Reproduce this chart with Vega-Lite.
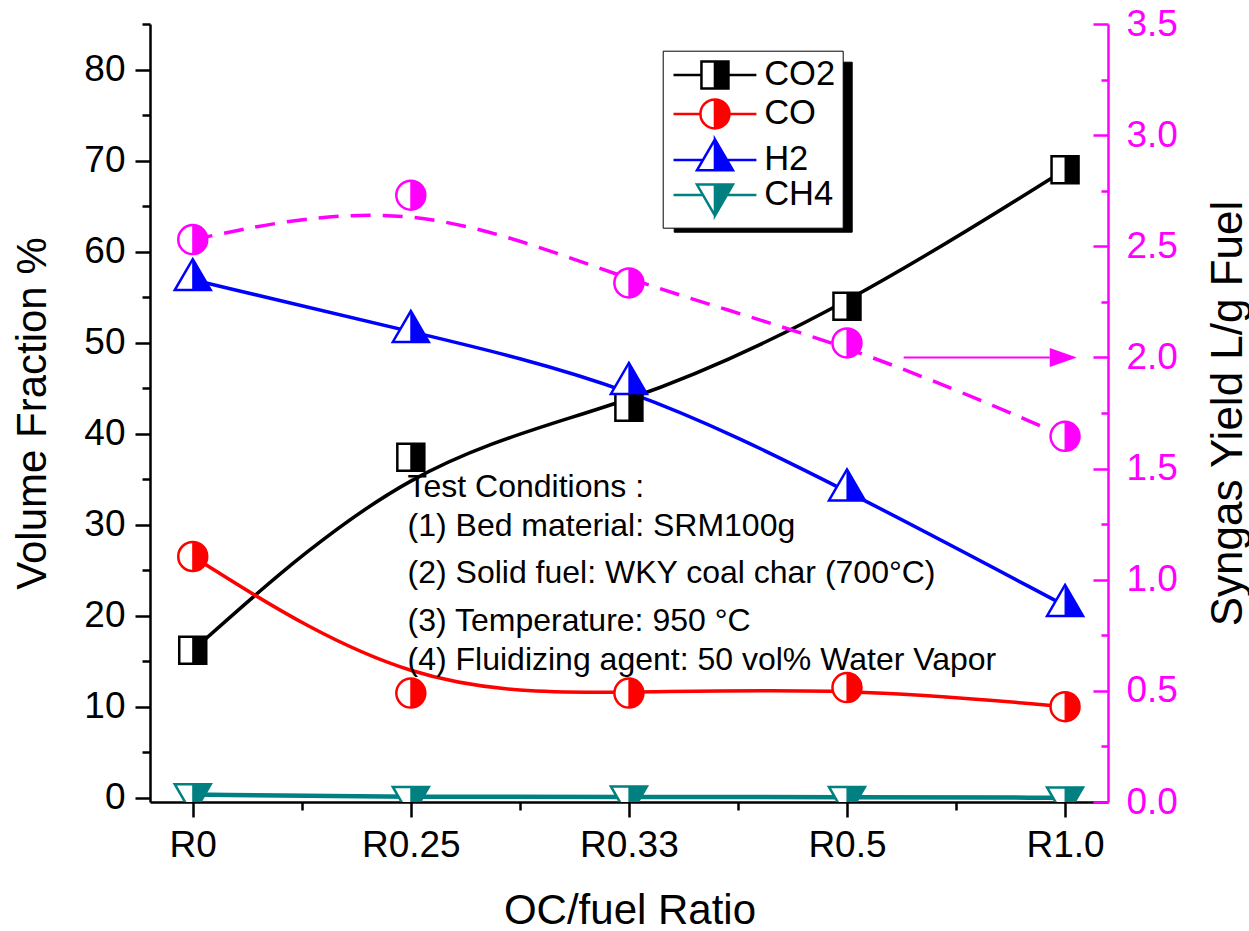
{
"$schema": "https://vega.github.io/schema/vega-lite/v6.json",
"width": 958,
"height": 778,
"autosize": {"type": "none"},
"padding": {"left": 150, "top": 24, "right": 141, "bottom": 129},
"background": "white",
"config": {
  "view": {"stroke": null},
  "font": "Liberation Sans",
  "axis": {"grid": false, "labelFont": "Liberation Sans", "titleFont": "Liberation Sans", "titleFontWeight": "normal", "labelFlush": false, "labelOverlap": false, "labelBound": false},
  "legend": {"labelFont": "Liberation Sans"}
},
"datasets": {
  "gases": [
    {"i": 0, "ratio": "R0", "series": "CO2", "value": 16.2},
    {"i": 1, "ratio": "R0.25", "series": "CO2", "value": 37.4},
    {"i": 2, "ratio": "R0.33", "series": "CO2", "value": 42.9},
    {"i": 3, "ratio": "R0.5", "series": "CO2", "value": 54.0},
    {"i": 4, "ratio": "R1.0", "series": "CO2", "value": 69.0},
    {"i": 0, "ratio": "R0", "series": "CO", "value": 26.5},
    {"i": 1, "ratio": "R0.25", "series": "CO", "value": 11.5},
    {"i": 2, "ratio": "R0.33", "series": "CO", "value": 11.5},
    {"i": 3, "ratio": "R0.5", "series": "CO", "value": 12.1},
    {"i": 4, "ratio": "R1.0", "series": "CO", "value": 10.0},
    {"i": 0, "ratio": "R0", "series": "H2", "value": 56.9},
    {"i": 1, "ratio": "R0.25", "series": "H2", "value": 51.2},
    {"i": 2, "ratio": "R0.33", "series": "H2", "value": 45.5},
    {"i": 3, "ratio": "R0.5", "series": "H2", "value": 33.8},
    {"i": 4, "ratio": "R1.0", "series": "H2", "value": 21.1},
    {"i": 0, "ratio": "R0", "series": "CH4", "value": 0.35},
    {"i": 1, "ratio": "R0.25", "series": "CH4", "value": 0.05},
    {"i": 2, "ratio": "R0.33", "series": "CH4", "value": 0.1},
    {"i": 3, "ratio": "R0.5", "series": "CH4", "value": 0.05},
    {"i": 4, "ratio": "R1.0", "series": "CH4", "value": 0.0}
  ],
  "syngas": [
    {"i": 0, "ratio": "R0", "yield": 2.53},
    {"i": 1, "ratio": "R0.25", "yield": 2.73},
    {"i": 2, "ratio": "R0.33", "yield": 2.335},
    {"i": 3, "ratio": "R0.5", "yield": 2.065},
    {"i": 4, "ratio": "R1.0", "yield": 1.645}
  ],
  "notes": [
    {"i": 0.985, "value": 33.03, "label": "Test Conditions :"},
    {"i": 0.985, "value": 28.75, "label": "(1) Bed material: SRM100g"},
    {"i": 0.985, "value": 23.58, "label": "(2) Solid fuel: WKY coal char (700°C)"},
    {"i": 0.985, "value": 18.31, "label": "(3) Temperature: 950 °C"},
    {"i": 0.985, "value": 14.03, "label": "(4) Fluidizing agent: 50 vol% Water Vapor"}
  ],
  "arrow": [
    {"i": 3.26, "i2": 3.93, "yield": 2.0}
  ],
  "legendKeys": [
    {"series": "CO2"}, {"series": "CO"}, {"series": "H2"}, {"series": "CH4"}
  ]
},
"layer": [
  {
    "data": {"name": "gases"},
    "encoding": {
      "x": {
        "field": "i", "type": "quantitative",
        "scale": {"domain": [-0.196, 4.197], "nice": false, "zero": false},
        "axis": {
          "title": "OC/fuel Ratio",
          "values": [0, 0.5, 1, 1.5, 2, 2.5, 3, 3.5, 4],
          "labelExpr": "datum.value % 1 === 0 ? ['R0','R0.25','R0.33','R0.5','R1.0'][datum.value] : ''",
          "tickSize": {"condition": {"test": "datum.value % 1 === 0", "value": 15}, "value": 8},
          "tickColor": "black", "tickWidth": 2.5,
          "domainColor": "black", "domainWidth": 2.5,
          "labelFontSize": 37, "labelColor": "black", "labelPadding": 10,
          "titleFontSize": 42, "titleColor": "black",
          "titleX": 479.5, "titleY": 121, "titleBaseline": "alphabetic", "titleAlign": "center"
        }
      },
      "y": {
        "field": "value", "type": "quantitative",
        "scale": {"domain": [-0.47, 85], "nice": false, "zero": false},
        "axis": {
          "title": "Volume Fraction %",
          "values": [0, 5, 10, 15, 20, 25, 30, 35, 40, 45, 50, 55, 60, 65, 70, 75, 80, 85],
          "labelExpr": "datum.value % 10 === 0 ? format(datum.value, 'd') : ''",
          "tickSize": {"condition": {"test": "datum.value % 10 === 0", "value": 15}, "value": 8},
          "tickColor": "black", "tickWidth": 2.5,
          "domainColor": "black", "domainWidth": 2.5,
          "labelFontSize": 37, "labelColor": "black", "labelPadding": 10,
          "titleFontSize": 42, "titleColor": "black",
          "titleAngle": 270, "titleX": -105, "titleY": 389, "titleBaseline": "alphabetic", "titleAlign": "center"
        }
      }
    },
    "layer": [
      {
        "mark": {"type": "line", "interpolate": "basis"},
        "encoding": {
          "detail": {"field": "series", "type": "nominal"},
          "stroke": {"condition": [
            {"test": "datum.series === 'CO2'", "value": "#000000"},
            {"test": "datum.series === 'CO'", "value": "#ff0000"},
            {"test": "datum.series === 'H2'", "value": "#0000ff"}
          ], "value": "#008080"},
          "strokeWidth": {"condition": {"test": "datum.series === 'CH4'", "value": 4.5}, "value": 3.5}
        }
      },
      {
        "mark": {"type": "point", "filled": true, "fill": "white", "size": 729, "strokeWidth": 2.5, "opacity": 1, "fillOpacity": 1, "clip": true},
        "encoding": {
          "stroke": {"condition": [
            {"test": "datum.series === 'CO2'", "value": "#000000"},
            {"test": "datum.series === 'CO'", "value": "#ff0000"},
            {"test": "datum.series === 'H2'", "value": "#0000ff"}
          ], "value": "#008080"},
          "shape": {"condition": [
            {"test": "datum.series === 'CO2'", "value": "M-1,-1L1,-1L1,1L-1,1Z"},
            {"test": "datum.series === 'CO'", "value": "M-1.074,0A1.074,1.074 0 1,1 1.074,0A1.074,1.074 0 1,1 -1.074,0Z"},
            {"test": "datum.series === 'H2'", "value": "M0,-1.531L1.333,0.765L-1.333,0.765Z"}
          ], "value": "M0,1.531L1.333,-0.765L-1.333,-0.765Z"}
        }
      },
      {
        "mark": {"type": "point", "filled": true, "size": 729, "strokeWidth": 1, "opacity": 1, "clip": true},
        "encoding": {
          "fill": {"condition": [
            {"test": "datum.series === 'CO2'", "value": "#000000"},
            {"test": "datum.series === 'CO'", "value": "#ff0000"},
            {"test": "datum.series === 'H2'", "value": "#0000ff"}
          ], "value": "#008080"},
          "stroke": {"condition": [
            {"test": "datum.series === 'CO2'", "value": "#000000"},
            {"test": "datum.series === 'CO'", "value": "#ff0000"},
            {"test": "datum.series === 'H2'", "value": "#0000ff"}
          ], "value": "#008080"},
          "shape": {"condition": [
            {"test": "datum.series === 'CO2'", "value": "M0,-1L1,-1L1,1L0,1Z"},
            {"test": "datum.series === 'CO'", "value": "M0,-1.074A1.074,1.074 0 0,1 0,1.074Z"},
            {"test": "datum.series === 'H2'", "value": "M0,-1.531L1.333,0.765L0,0.765Z"}
          ], "value": "M0,1.531L1.333,-0.765L0,-0.765Z"}
        }
      },
      {
        "data": {"name": "notes"},
        "mark": {"type": "text", "align": "left", "baseline": "alphabetic", "fontSize": 32, "font": "Liberation Sans", "color": "black"},
        "encoding": {
          "text": {"field": "label", "type": "nominal"}
        }
      }
    ]
  },
  {
    "encoding": {
      "x": {
        "field": "i", "type": "quantitative",
        "scale": {"domain": [-0.196, 4.197], "nice": false, "zero": false},
        "axis": {
          "title": "OC/fuel Ratio",
          "values": [0, 0.5, 1, 1.5, 2, 2.5, 3, 3.5, 4],
          "labelExpr": "datum.value % 1 === 0 ? ['R0','R0.25','R0.33','R0.5','R1.0'][datum.value] : ''",
          "tickSize": {"condition": {"test": "datum.value % 1 === 0", "value": 15}, "value": 8},
          "tickColor": "black", "tickWidth": 2.5,
          "domainColor": "black", "domainWidth": 2.5,
          "labelFontSize": 37, "labelColor": "black", "labelPadding": 10,
          "titleFontSize": 42, "titleColor": "black",
          "titleX": 479.5, "titleY": 121, "titleBaseline": "alphabetic", "titleAlign": "center"
        }
      }
    },
    "layer": [
      {
        "data": {"name": "syngas"},
        "mark": {"type": "line", "interpolate": "basis", "color": "#ff00ff", "strokeWidth": 3.5, "strokeDash": [20, 12]},
        "encoding": {
          "y": {
            "field": "yield", "type": "quantitative",
            "scale": {"domain": [0, 3.5], "nice": false, "zero": false},
            "axis": {
              "orient": "right",
              "title": "Syngas Yield L/g Fuel",
              "values": [0, 0.25, 0.5, 0.75, 1, 1.25, 1.5, 1.75, 2, 2.25, 2.5, 2.75, 3, 3.25, 3.5],
              "labelExpr": "(datum.value * 4) % 2 === 0 ? format(datum.value, '.1f') : ''",
              "tickSize": {"condition": {"test": "(datum.value * 4) % 2 === 0", "value": -15}, "value": -7},
              "tickColor": "#ff00ff", "tickWidth": 2.5,
              "domainColor": "#ff00ff", "domainWidth": 2.5,
              "labelFontSize": 37, "labelColor": "#ff00ff", "labelPadding": 33,
              "titleFontSize": 44, "titleColor": "black",
              "titleAngle": 270, "titleX": 133, "titleY": 389, "titleBaseline": "alphabetic", "titleAlign": "center"
            }
          }
        }
      },
      {
        "data": {"name": "syngas"},
        "mark": {"type": "point", "filled": true, "fill": "white", "stroke": "#ff00ff", "strokeWidth": 2.5, "size": 729, "opacity": 1,
                 "shape": "M-1.074,0A1.074,1.074 0 1,1 1.074,0A1.074,1.074 0 1,1 -1.074,0Z"},
        "encoding": {
          "y": {"field": "yield", "type": "quantitative"}
        }
      },
      {
        "data": {"name": "syngas"},
        "mark": {"type": "point", "filled": true, "fill": "#ff00ff", "stroke": "#ff00ff", "strokeWidth": 1, "size": 729, "opacity": 1,
                 "shape": "M0,-1.074A1.074,1.074 0 0,1 0,1.074Z"},
        "encoding": {
          "y": {"field": "yield", "type": "quantitative"}
        }
      },
      {
        "data": {"name": "arrow"},
        "mark": {"type": "rule", "color": "#ff00ff", "strokeWidth": 2},
        "encoding": {
          "x2": {"field": "i2"},
          "y": {"field": "yield", "type": "quantitative"}
        }
      },
      {
        "data": {"name": "arrow"},
        "mark": {"type": "point", "filled": true, "color": "#ff00ff", "size": 729, "opacity": 1, "shape": "M0,-0.7L2,0L0,0.7Z"},
        "encoding": {
          "x": {
            "field": "i2", "type": "quantitative",
            "scale": {"domain": [-0.196, 4.197], "nice": false, "zero": false},
            "axis": {
              "title": "OC/fuel Ratio",
              "values": [0, 0.5, 1, 1.5, 2, 2.5, 3, 3.5, 4],
              "labelExpr": "datum.value % 1 === 0 ? ['R0','R0.25','R0.33','R0.5','R1.0'][datum.value] : ''",
              "tickSize": {"condition": {"test": "datum.value % 1 === 0", "value": 15}, "value": 8},
              "tickColor": "black", "tickWidth": 2.5,
              "domainColor": "black", "domainWidth": 2.5,
              "labelFontSize": 37, "labelColor": "black", "labelPadding": 10,
              "titleFontSize": 42, "titleColor": "black",
              "titleX": 479.5, "titleY": 121, "titleBaseline": "alphabetic", "titleAlign": "center"
            }
          },
          "y": {"field": "yield", "type": "quantitative"}
        }
      }
    ]
  },
  {
    "data": {"name": "legendKeys"},
    "mark": {"type": "point", "filled": true, "size": 729, "strokeWidth": 2.5, "opacity": 0},
    "encoding": {
      "color": {
        "field": "series", "type": "nominal",
        "scale": {"domain": ["CO2", "CO", "H2", "CH4"], "range": ["#000000", "#ff0000", "#0000ff", "#008080"]},
        "legend": {
          "orient": "none", "legendX": 512.7, "legendY": 26.7, "title": null, "zindex": 2,
          "fillColor": "white", "strokeColor": "black", "padding": 7, "rowPadding": 0,
          "labelFontSize": 34.5, "labelColor": "black", "labelOffset": 32,
          "symbolSize": 729, "symbolStrokeWidth": 2.5, "symbolOffset": 28, "symbolOpacity": 1,
          "symbolFillColor": "white", "symbolStrokeColor": "black"
        }
      },
      "stroke": {
        "field": "series", "type": "nominal",
        "scale": {"domain": ["CO2", "CO", "H2", "CH4"], "range": ["#000000", "#ff0000", "#0000ff", "#008080"]},
        "legend": {
          "orient": "none", "legendX": 512.7, "legendY": 26.7, "title": null, "zindex": 2,
          "fillColor": "white", "strokeColor": "black", "padding": 7, "rowPadding": 0,
          "labelFontSize": 34.5, "labelColor": "black", "labelOffset": 32,
          "symbolSize": 729, "symbolStrokeWidth": 2.5, "symbolOffset": 28, "symbolOpacity": 1,
          "symbolFillColor": "white", "symbolStrokeColor": "black"
        }
      },
      "shape": {
        "field": "series", "type": "nominal",
        "scale": {"domain": ["CO2", "CO", "H2", "CH4"], "range": [
          "M-3.07,0L-1,0M1,0L3.07,0M0,-1L1,-1L1,1L0,1ZM0,-1L-1,-1L-1,1L0,1L-1,1L-1,-1L0,-1",
          "M-3.07,0L-1.074,0M1.074,0L3.07,0M0,-1.074A1.074,1.074 0 0,1 0,1.074ZM0,-1.074A1.074,1.074 0 0,0 0,1.074A1.074,1.074 0 0,1 0,-1.074",
          "M-3.07,0L-0.889,0M0.889,0L3.07,0M0,-1.531L1.333,0.765L0,0.765ZM0,-1.531L-1.333,0.765L0,0.765L-1.333,0.765L0,-1.531",
          "M-3.07,0L-0.889,0M0.889,0L3.07,0M0,1.531L1.333,-0.765L0,-0.765ZM0,1.531L-1.333,-0.765L0,-0.765L-1.333,-0.765L0,1.531"
        ]},
        "legend": {
          "orient": "none", "legendX": 512.7, "legendY": 26.7, "title": null, "zindex": 2,
          "fillColor": "white", "strokeColor": "black", "padding": 7, "rowPadding": 0,
          "labelFontSize": 34.5, "labelColor": "black", "labelOffset": 32,
          "symbolSize": 729, "symbolStrokeWidth": 2.5, "symbolOffset": 28, "symbolOpacity": 1,
          "symbolFillColor": "white", "symbolStrokeColor": "black"
        }
      }
    }
  },
  {
    "data": {"name": "legendKeys"},
    "mark": {"type": "point", "size": 0, "opacity": 0, "shape": "M-3.07,0L3.07,0M0,-1.531L1.333,0.765L-1.333,0.765Z"},
    "encoding": {
      "opacity": {
        "field": "series", "type": "ordinal", "sort": ["CO2", "CO", "H2", "CH4"],
        "scale": {"range": [0, 0]},
        "legend": {
          "orient": "none", "legendX": 523.7, "legendY": 37.7, "title": null, "zindex": 1,
          "fillColor": "black", "strokeColor": "black", "padding": 7, "rowPadding": 23,
          "labelFontSize": 34.5, "labelColor": "black", "labelOffset": 32,
          "symbolSize": 729, "symbolStrokeWidth": 2.5, "symbolOffset": 28,
          "symbolFillColor": "black", "symbolStrokeColor": "black"
        }
      }
    }
  }
],
"resolve": {"scale": {"y": "independent"}}
}
